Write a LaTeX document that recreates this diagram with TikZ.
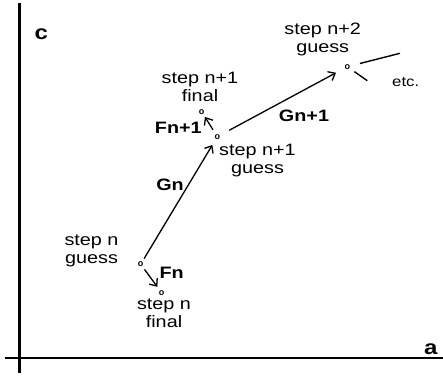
\documentclass[tikz,border=0pt]{standalone}
\usepackage{fontspec}
\usepackage{graphicx}
\setmainfont{Liberation Sans}
\newcommand{\sx}[1]{\scalebox{1.2}[1]{#1}}
\usetikzlibrary{arrows.meta}
\tikzset{
  lbl/.style={font=\fontsize{16.5}{18}\selectfont, align=center, inner sep=0pt},
  blbl/.style={font=\fontsize{16.5}{18}\selectfont\bfseries, inner sep=0pt},
  axlbl/.style={font=\fontsize{20}{20}\selectfont\bfseries, inner sep=0pt},
  etclbl/.style={font=\fontsize{14}{14}\selectfont, inner sep=0pt},
  ptmark/.style={font=\fontsize{9}{9}\selectfont\bfseries, inner sep=0pt},
  arr/.style={line width=1.3pt, -{Straight Barb[length=6pt,width=10pt,line width=1.3pt]}},
  axisline/.style={line width=2.6pt},
  etcline/.style={line width=1.4pt}
}
\begin{document}
\begin{tikzpicture}[x=1pt,y=-1pt]
\useasboundingbox (0,0) rectangle (443,386);
% axes
\coordinate (ytop) at (19.5,3);
\coordinate (ybot) at (19.5,373);
\coordinate (xl) at (5,358);
\coordinate (xr) at (443,358);
\draw[axisline] (ytop) -- (ybot);
\draw[axisline] (xl) -- (xr);
\node[axlbl] (c) at (41.3,34.3) {\sx{c}};
\node[axlbl] (a) at (430.7,349.3) {\sx{a}};
% markers
\node[ptmark] (g0) at (140.7,264.3) {o};
\node[ptmark] (f0) at (161.7,292.7) {o};
\node[ptmark] (g1) at (217.3,136.7) {o};
\node[ptmark] (f1) at (201.7,111.7) {o};
\node[ptmark] (g2) at (347.3,66.7) {o};
% arrows
\draw[arr, shorten <=3.5pt, shorten >=6.5pt] (g0) -- (g1);
\draw[arr, shorten <=3pt, shorten >=4pt] (g0) -- (f0);
\draw[arr, shorten <=5pt, shorten >=3pt] (g1) -- (f1);
\draw[arr, shorten <=10pt, shorten >=9.5pt] (g1) -- (g2);
% etc lines
\coordinate (e1) at (400,53.3);
\coordinate (e2) at (367.3,80.7);
\draw[etcline, shorten <=10pt] (g2) -- (e1);
\draw[etcline, shorten <=5pt] (g2) -- (e2);
% labels
\node[lbl] (t2g) at (322.7,39) {\sx{step n+2}\\\sx{guess}};
\node[etclbl] (etc) at (405.7,81.7) {\sx{etc.}};
\node[lbl] (t1f) at (200,86.5) {\sx{step n+1}\\\sx{final}};
\node[blbl] (lf1) at (178.3,128.3) {\sx{Fn+1}};
\node[blbl] (lg1) at (304,115.7) {\sx{Gn+1}};
\node[lbl] (t1g) at (257.5,161) {\sx{step n+1}\\\sx{guess}};
\node[blbl] (lg0) at (170,185) {\sx{Gn}};
\node[lbl] (t0g) at (91.5,251) {\sx{step n}\\\sx{guess}};
\node[blbl] (lf0) at (171.7,272.7) {\sx{Fn}};
\node[lbl] (t0f) at (164,313) {\sx{step n}\\\sx{final}};
\end{tikzpicture}
\end{document}
